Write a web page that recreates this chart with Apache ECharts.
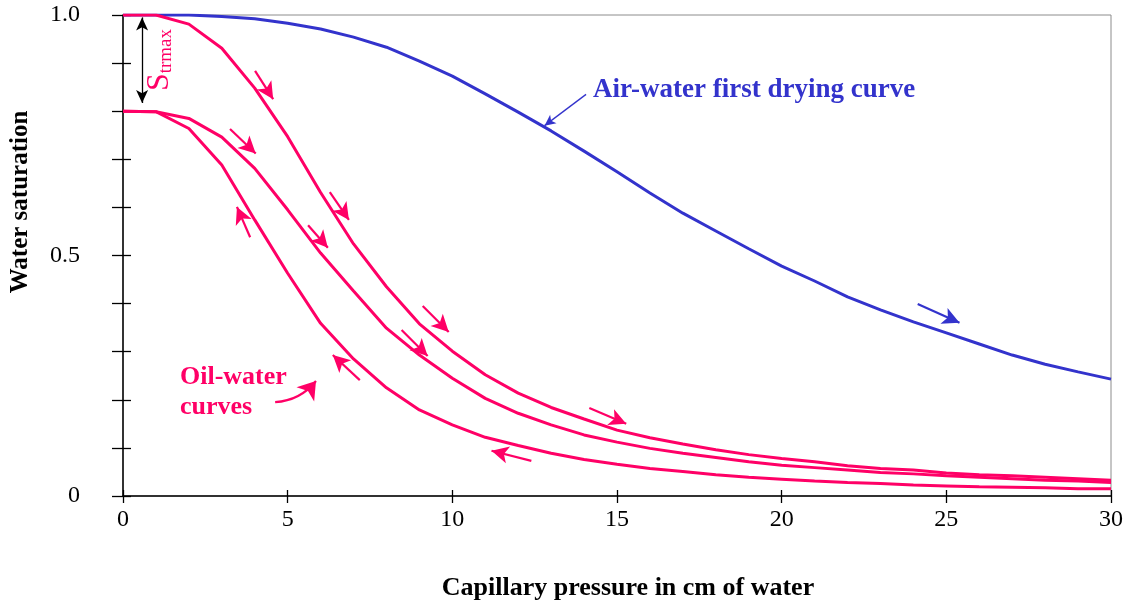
<!DOCTYPE html>
<html>
<head>
<meta charset="utf-8">
<script src="https://cdn.jsdelivr.net/npm/echarts@6/dist/echarts.min.js"></script>
<style>
html,body{margin:0;padding:0;background:#fff}
#chart{width:1126px;height:607px}
</style>
</head>
<body>
<div id="chart"></div>
<script>
// capillary pressure (cm of water)
const pressure = [0,1,2,3,4,5,6,7,8,9,10,11,12,13,14,15,16,17,18,19,20,21,22,23,24,25,26,27,28,29,30]
// water saturation
const airWaterDrying = [1.000,1.000,1.000,0.997,0.992,0.983,0.971,0.954,0.933,0.904,0.873,0.836,0.798,0.759,0.717,0.674,0.630,0.588,0.551,0.514,0.478,0.447,0.414,0.387,0.362,0.339,0.316,0.293,0.274,0.258,0.243]
const oilWaterOuter = [1.000,1.000,0.981,0.931,0.848,0.747,0.631,0.524,0.435,0.358,0.301,0.252,0.214,0.184,0.160,0.137,0.121,0.108,0.096,0.086,0.078,0.071,0.063,0.057,0.054,0.048,0.044,0.042,0.039,0.036,0.033]
const oilWaterMiddle = [0.800,0.799,0.785,0.746,0.681,0.595,0.505,0.426,0.349,0.293,0.245,0.203,0.172,0.148,0.127,0.112,0.099,0.089,0.080,0.071,0.064,0.059,0.054,0.049,0.046,0.042,0.039,0.036,0.033,0.031,0.028]
const oilWaterInner = [0.800,0.799,0.764,0.688,0.574,0.463,0.359,0.285,0.225,0.179,0.148,0.122,0.105,0.089,0.076,0.066,0.057,0.051,0.044,0.039,0.035,0.031,0.028,0.026,0.023,0.021,0.019,0.018,0.017,0.015,0.015]
const yTickLabels = ['0','0.5','1.0']

const pink = '#ff0066'
const blue = '#3333cc'
const serif = 'Liberation Serif'

let chart = echarts.init(document.getElementById('chart'))

const toPoints = arr => pressure.map((x,i) => [x, arr[i]])

// little arrows along the curves
const arrow = (a, b) => [{coord:a},{coord:b}]

// shared look of the direction arrows
const arrowMarks = (color, data, extra) => Object.assign({
    silent:true,
    symbol:['none','arrow'],
    symbolSize:[13,17],
    label:{show:false},
    emphasis:{disabled:true},
    lineStyle:{color:color, width:2.2, type:'solid'},
    data:data
}, extra || {})

let xBase = {
    type:'value', min:0, max:30, interval:5,
    splitLine:{show:false}
}
let yBase = {
    type:'value', min:0, max:1, interval:0.1,
    splitLine:{show:false}
}

let option = {
    animation:false,
    backgroundColor:'#fff',
    grid:{
        left:123, right:14, top:15, bottom:111,
        show:true, borderColor:'#8c8c8c', borderWidth:1
    },
    xAxis:[
        Object.assign({}, xBase, {
            position:'bottom',
            axisLine:{lineStyle:{color:'#000', width:1.5}},
            axisTick:{inside:false, length:7, lineStyle:{color:'#000', width:1.3}},
            axisLabel:{color:'#000', fontFamily:serif, fontSize:24, margin:12}
        }),
        Object.assign({}, xBase, {
            position:'bottom',
            axisLine:{show:false},
            axisTick:{inside:true, length:6, lineStyle:{color:'#000', width:1.3}},
            axisLabel:{show:false}
        })
    ],
    yAxis:[
        Object.assign({}, yBase, {
            position:'left',
            axisLine:{lineStyle:{color:'#000', width:1.5}},
            axisTick:{inside:false, length:11, lineStyle:{color:'#000', width:1.3}},
            axisLabel:{
                color:'#000', fontFamily:serif, fontSize:24, margin:43,
                formatter:v => {
                    let k = v * 2
                    return Math.abs(k - Math.round(k)) < 1e-6 ? yTickLabels[Math.round(k)] : ''
                }
            }
        }),
        Object.assign({}, yBase, {
            position:'left',
            axisLine:{show:false},
            axisTick:{inside:true, length:8, lineStyle:{color:'#000', width:1.3}},
            axisLabel:{show:false}
        })
    ],
    series:[
        {
            name:'Air-water first drying curve',
            type:'line',
            data:toPoints(airWaterDrying),
            showSymbol:false,
            lineStyle:{color:blue, width:3},
            z:3,
            markLine:arrowMarks(blue, [arrow([24.13,0.399],[25.40,0.360])])
        },
        {
            name:'outer',
            type:'line',
            data:toPoints(oilWaterOuter),
            showSymbol:false,
            lineStyle:{color:pink, width:3},
            markLine:arrowMarks(pink, [
                arrow([4.01,0.884],[4.56,0.825]),
                arrow([6.28,0.632],[6.86,0.574]),
                arrow([9.10,0.395],[9.89,0.341]),
                arrow([14.16,0.183],[15.28,0.150])
            ])
        },
        {
            name:'middle',
            type:'line',
            data:toPoints(oilWaterMiddle),
            showSymbol:false,
            lineStyle:{color:pink, width:3},
            markLine:arrowMarks(pink, [
                arrow([3.25,0.763],[4.03,0.712]),
                arrow([5.62,0.563],[6.22,0.516]),
                arrow([8.46,0.345],[9.25,0.291])
            ])
        },
        {
            name:'inner',
            type:'line',
            data:toPoints(oilWaterInner),
            showSymbol:false,
            lineStyle:{color:pink, width:3},
            markLine:arrowMarks(pink, [
                arrow([3.86,0.538],[3.46,0.601]),
                arrow([7.19,0.241],[6.37,0.293]),
                arrow([12.40,0.073],[11.19,0.094])
            ])
        },
        // curved pointer from the "Oil-water curves" label (markLine can't bend, lines can)
        {
            name:'oil-water pointer',
            type:'lines',
            coordinateSystem:'cartesian2d',
            silent:true,
            symbol:['none','arrow'],
            symbolSize:[13,17],
            lineStyle:{color:pink, width:2.2, opacity:1, curveness:-0.22},
            data:[{coords:[[4.62,0.195],[5.86,0.239]]}]
        },
        // annotation pointers only, no data of their own
        {
            name:'air-water pointer',
            type:'line',
            data:[],
            markLine:arrowMarks(blue, [arrow([14.06,0.835],[12.80,0.770])],
                {symbolSize:[8,11], lineStyle:{color:blue, width:1.3, type:'solid'}})
        },
        {
            name:'Strmax',
            type:'line',
            data:[],
            markLine:arrowMarks('#000', [arrow([0.58,0.995],[0.58,0.817])],
                {symbol:['arrow','arrow'], symbolSize:[9,13], lineStyle:{color:'#000', width:1.3, type:'solid'}})
        }
    ],
    graphic:[
        {
            type:'text', x:21, y:202, rotation:Math.PI/2,
            style:{text:'Water saturation', font:'bold 25px "Liberation Serif"', fill:'#000', textAlign:'center', textVerticalAlign:'middle'}
        },
        {
            type:'text', x:628, y:588,
            style:{text:'Capillary pressure in cm of water', font:'bold 26px "Liberation Serif"', fill:'#000', textAlign:'center', textVerticalAlign:'middle'}
        },
        {
            type:'text', x:593, y:90,
            style:{text:'Air-water first drying curve', font:'bold 27px "Liberation Serif"', fill:blue, textAlign:'left', textVerticalAlign:'middle'}
        },
        {
            type:'text', x:180, y:392,
            style:{text:'Oil-water\ncurves', font:'bold 26px "Liberation Serif"', lineHeight:30, fill:pink, textAlign:'left', textVerticalAlign:'middle'}
        },
        {
            type:'text', x:160, y:60, rotation:Math.PI/2,
            style:{
                text:'{s|S}{sub|trmax}',
                textAlign:'center', textVerticalAlign:'middle',
                rich:{
                    s:{fontFamily:serif, fontSize:32, fill:pink, color:pink},
                    sub:{fontFamily:serif, fontSize:19, fill:pink, color:pink, padding:[12,0,0,0]}
                }
            }
        }
    ]
}

chart.setOption(option)
</script>
</body>
</html>
